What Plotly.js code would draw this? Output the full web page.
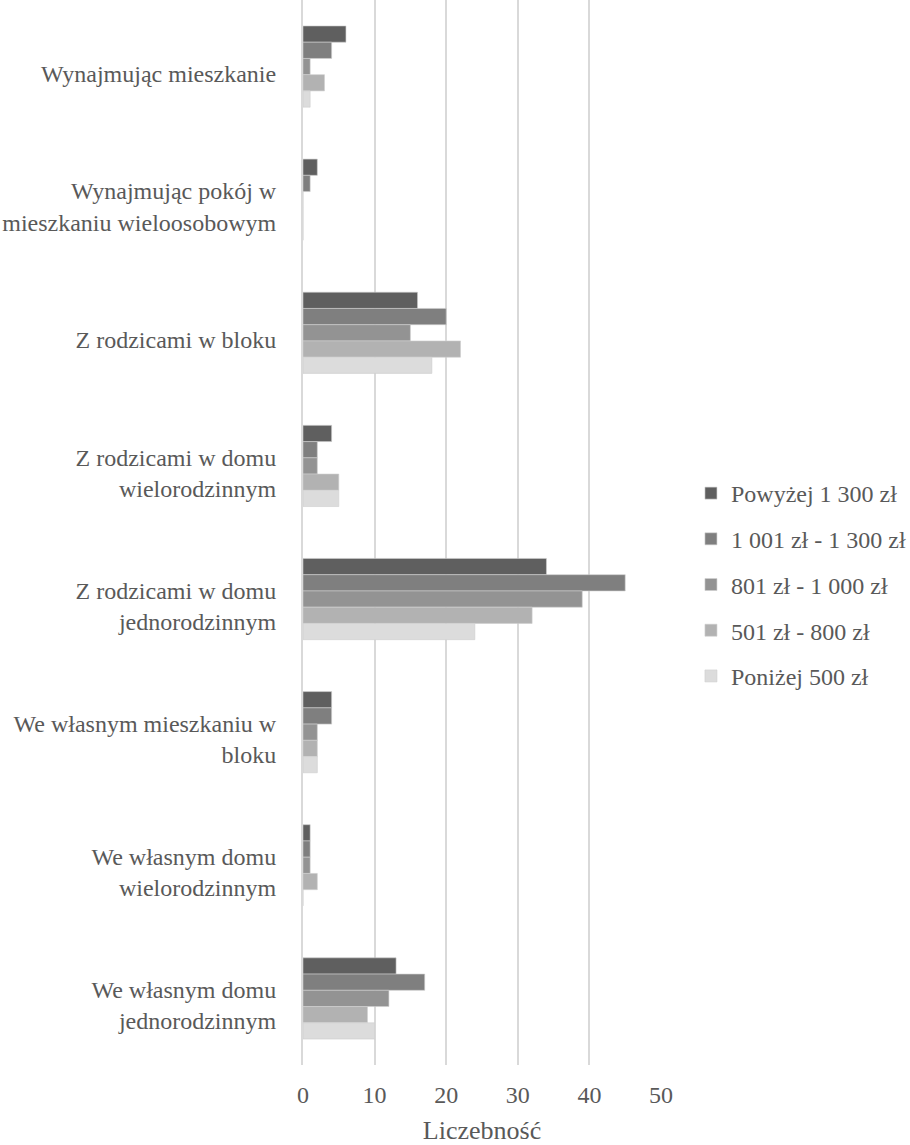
<!DOCTYPE html>
<html>
<head>
<meta charset="utf-8">
<script src="https://cdn.plot.ly/plotly-3.0.1.min.js"></script>
<style>
  html, body { margin: 0; padding: 0; background: #fff; }
  #chart { width: 910px; height: 1145px; }
</style>
</head>
<body>
<div id="chart"></div>
<script>
// Where students live, split by monthly income bracket
const categories = [
  "Wynajmując mieszkanie",
  "Wynajmując pokój w<br>mieszkaniu wieloosobowym",
  "Z rodzicami w bloku",
  "Z rodzicami w domu<br>wielorodzinnym",
  "Z rodzicami w domu<br>jednorodzinnym",
  "We własnym mieszkaniu w<br>bloku",
  "We własnym domu<br>wielorodzinnym",
  "We własnym domu<br>jednorodzinnym"
];

const seriesNames = [
  "Powyżej 1 300 zł",
  "1 001 zł - 1 300 zł",
  "801 zł - 1 000 zł",
  "501 zł - 800 zł",
  "Poniżej 500 zł"
];

const powyzej1300 = [6, 2, 16, 4, 34, 4, 1, 13];
const od1001do1300 = [4, 1, 20, 2, 45, 4, 1, 17];
const od801do1000 = [1, 0, 15, 2, 39, 2, 1, 12];
const od501do800 = [3, 0, 22, 5, 32, 2, 2, 9];
const ponizej500 = [1, 0, 18, 5, 24, 2, 0, 10];

const seriesValues = [powyzej1300, od1001do1300, od801do1000, od501do800, ponizej500];
const seriesColors = ["#5f5f5f", "#7f7f7f", "#939393", "#b2b2b2", "#dcdcdc"];

const xTicks = [0, 10, 20, 30, 40, 50];

const FONT = "Liberation Serif";
const TEXT = "#595959";

const traces = seriesNames.map((name, i) => ({
  type: "bar",
  orientation: "h",
  name: name,
  legendgroup: "g" + i,
  y: categories,
  x: seriesValues[i],
  marker: { color: seriesColors[i], line: { color: "#cfcfcf", width: 0.6 } },
  hoverinfo: "x+name"
}));

const layout = {
  width: 910,
  height: 1145,
  margin: { l: 303, r: 249, t: 0, b: 80 },
  paper_bgcolor: "#ffffff",
  plot_bgcolor: "#ffffff",
  barmode: "group",
  bargap: 0.39,
  bargroupgap: 0,
  font: { family: FONT, size: 24, color: TEXT },
  xaxis: {
    range: [0, 50],
    tickvals: xTicks,
    ticktext: xTicks.map(String),
    showgrid: true,
    gridcolor: "#d9d9d9",
    gridwidth: 2,
    zeroline: false,
    showline: false,
    ticks: "",
    ticklabelstandoff: 13,
    tickfont: { family: FONT, size: 24, color: TEXT },
    title: { text: "Liczebność", font: { family: FONT, size: 26, color: TEXT }, standoff: 21 },
    fixedrange: true
  },
  yaxis: {
    type: "category",
    autorange: "reversed",
    showgrid: false,
    zeroline: false,
    showline: true,
    linecolor: "#d9d9d9",
    linewidth: 2,
    ticks: "",
    ticklabelstandoff: 20,
    ticklabelshift: -7,
    tickfont: { family: FONT, size: 24, color: TEXT },
    fixedrange: true
  },
  showlegend: true,
  legend: {
    xref: "container",
    yref: "container",
    x: 0.7593,
    y: 0.4895,
    xanchor: "left",
    yanchor: "middle",
    traceorder: "grouped",
    tracegroupgap: 11.5,
    font: { family: FONT, size: 24, color: TEXT },
    itemwidth: 30,
    bgcolor: "rgba(0,0,0,0)"
  }
};

Plotly.newPlot("chart", traces, layout, { displayModeBar: false, staticPlot: true });
</script>
</body>
</html>
